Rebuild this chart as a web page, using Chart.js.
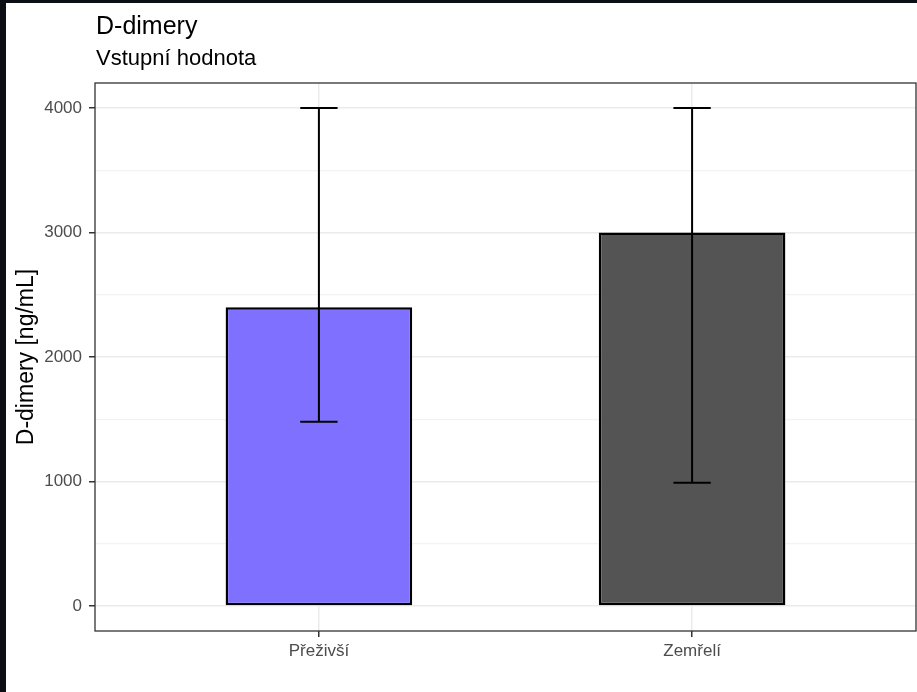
<!DOCTYPE html>
<html>
<head>
<meta charset="utf-8">
<title>D-dimery</title>
<script src="https://cdn.jsdelivr.net/npm/chart.js@4/dist/chart.umd.min.js"></script>
<style>
  html, body { margin: 0; padding: 0; background: #0b0e13; }
  #wrap { position: absolute; left: 6px; top: 3px; width: 911px; height: 689px; background: #ffffff; }
  canvas { display: block; }
</style>
</head>
<body>
<div id="wrap"><canvas id="chart" width="911" height="689"></canvas></div>
<script>
// Categories and values
const categories = ['Přeživší', 'Zemřelí'];
const meanValues = [2400, 3000];
const errLow = [1480, 990];
const errHigh = [4000, 4000];
const barColors = ['#8070ff', '#545454'];

// Axis breaks
const yMajor = [0, 1000, 2000, 3000, 4000];
const yMinor = [500, 1500, 2500, 3500];

const titleText = 'D-dimery';
const subtitleText = 'Vstupní hodnota';
const yTitleText = 'D-dimery [ng/mL]';

const FONT = '"Liberation Sans", Arial, sans-serif';

// Positions 1..n on a linear axis, 0.6 units of padding on each side
const barData = meanValues.map((v, i) => ({ x: i + 1, y: v }));

const titlePlugin = {
  id: 'plotTitles',
  afterDraw(chart) {
    const { ctx, chartArea } = chart;
    ctx.save();
    ctx.fillStyle = '#000000';
    ctx.textAlign = 'left';
    ctx.textBaseline = 'alphabetic';
    ctx.font = '25px ' + FONT;
    ctx.fillText(titleText, chartArea.left + 1, 31);
    ctx.font = '22px ' + FONT;
    ctx.fillText(subtitleText, chartArea.left + 1, 62);
    ctx.restore();
  }
};

const errorBarPlugin = {
  id: 'errorBars',
  afterDatasetsDraw(chart) {
    const { ctx } = chart;
    const xs = chart.scales.x, ys = chart.scales.y;
    ctx.save();
    ctx.strokeStyle = '#000000';
    ctx.lineWidth = 2;
    categories.forEach((c, i) => {
      const pos = i + 1;
      const xc = xs.getPixelForValue(pos);
      const xl = xs.getPixelForValue(pos - 0.05);
      const xr = xs.getPixelForValue(pos + 0.05);
      const yl = ys.getPixelForValue(errLow[i]);
      const yh = ys.getPixelForValue(errHigh[i]);
      ctx.beginPath();
      ctx.moveTo(xc, yl); ctx.lineTo(xc, yh);
      ctx.moveTo(xl, yl); ctx.lineTo(xr, yl);
      ctx.moveTo(xl, yh); ctx.lineTo(xr, yh);
      ctx.stroke();
    });
    ctx.restore();
  }
};

const panelBorderPlugin = {
  id: 'panelBorder',
  afterDraw(chart) {
    const { ctx, chartArea: a } = chart;
    ctx.save();
    ctx.strokeStyle = '#333333';
    ctx.lineWidth = 1.3;
    ctx.strokeRect(a.left, a.top, a.right - a.left, a.bottom - a.top);
    ctx.restore();
  }
};

new Chart(document.getElementById('chart'), {
  type: 'bar',
  data: {
    datasets: [{
      data: barData,
      backgroundColor: barColors,
      borderColor: '#000000',
      borderWidth: 2.5,
      borderSkipped: false,
      barPercentage: 0.5,
      categoryPercentage: 1.0
    }]
  },
  options: {
    responsive: false,
    animation: false,
    devicePixelRatio: 1,
    layout: { padding: { top: 80, right: 1, bottom: 0, left: 0 } },
    plugins: {
      legend: { display: false },
      tooltip: { enabled: false },
      title: { display: false }
    },
    scales: {
      x: {
        type: 'linear',
        offset: false,
        min: 0.4,
        max: categories.length + 0.6,
        afterBuildTicks(scale) {
          scale.ticks = categories.map((c, i) => ({ value: i + 1 }));
        },
        afterFit(scale) { scale.height = 61; },
        ticks: {
          autoSkip: false,
          maxRotation: 0,
          padding: 4,
          color: '#4d4d4d',
          font: { family: FONT, size: 17 },
          callback: (v) => categories[Math.round(v) - 1] ?? ''
        },
        grid: {
          offset: false,
          color: '#ebebeb',
          lineWidth: 1.5,
          tickColor: '#333333',
          tickLength: 6,
          drawTicks: true
        },
        border: { display: false }
      },
      y: {
        type: 'linear',
        min: -200,
        max: 4200,
        afterBuildTicks(scale) {
          scale.ticks = [...yMajor, ...yMinor].sort((a, b) => a - b).map(v => ({ value: v }));
        },
        afterFit(scale) { scale.width = 89; },
        ticks: {
          autoSkip: false,
          padding: 7,
          color: '#4d4d4d',
          font: { family: FONT, size: 17 },
          callback: (v) => yMajor.includes(v) ? String(v) : ''
        },
        grid: {
          color: (ctx) => yMajor.includes(ctx.tick?.value) ? '#ebebeb' : '#f3f3f3',
          lineWidth: (ctx) => yMajor.includes(ctx.tick?.value) ? 1.5 : 1.2,
          tickColor: (ctx) => yMajor.includes(ctx.tick?.value) ? '#333333' : 'rgba(0,0,0,0)',
          tickLength: 6,
          drawTicks: true
        },
        border: { display: false },
        title: {
          display: true,
          text: yTitleText,
          color: '#000000',
          font: { family: FONT, size: 23 },
          padding: { top: 7, bottom: 0 }
        }
      }
    }
  },
  plugins: [errorBarPlugin, panelBorderPlugin, titlePlugin]
});
</script>
</body>
</html>
